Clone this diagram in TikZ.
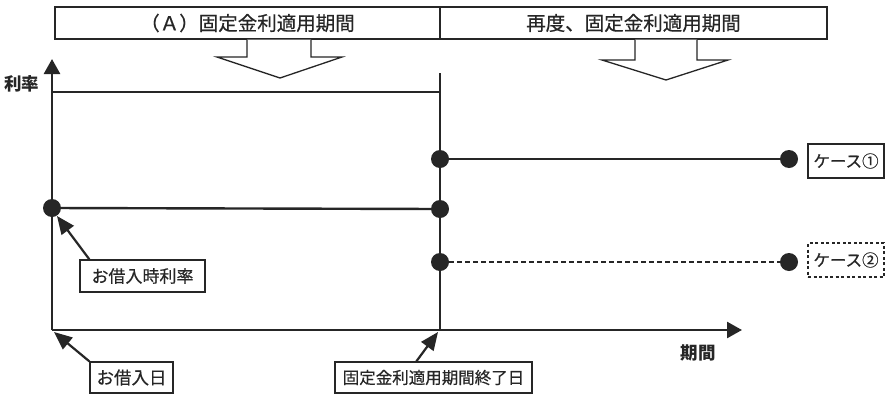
\documentclass[tikz,border=0pt]{standalone}
\usepackage{fontspec}
\newfontfamily\jp[FakeBold=0.5]{Noto Sans CJK JP}
\newfontfamily\jpg{Noto Sans CJK JP}
\usetikzlibrary{arrows.meta}
\definecolor{ink}{HTML}{262626}
\tikzset{
  lbl/.style={draw=ink, line width=1.3pt, inner sep=0pt, text=ink, font=\jp},
  hdr/.style={lbl, minimum height=32pt, font=\jp\fontsize{19.5}{20}\selectfont},
  axlbl/.style={text=ink, font=\jpg\bfseries\fontsize{17.5}{18}\selectfont},
  dot/.style={circle, fill=ink, minimum size=18pt, inner sep=0pt},
  rate/.style={draw=ink, line width=2.4pt},
  axis/.style={draw=ink, line width=2.6pt, -{Triangle[length=15pt,width=16pt]}},
  ptr/.style={draw=ink, line width=2.2pt, -{Triangle[length=18pt,width=15pt]}},
  hollow/.style={draw=ink, line width=1.3pt, fill=white}
}
\begin{document}
\begin{tikzpicture}[x=1pt,y=-1pt]
\useasboundingbox[fill=white] (0,0) rectangle (886,394);
% header boxes
\node[hdr, minimum width=385pt] (hA) at (247.5,23) {（Ａ）固定金利適用期間};
\node[hdr, minimum width=387pt] (hB) at (633.5,23) {再度、固定金利適用期間};
% hollow arrows
\draw[hollow] (247,39.6) -- (247,57) -- (217,57) -- (280,78) -- (342,57) -- (311,57) -- (311,39.6);
\draw[hollow] (635,39.6) -- (635,60) -- (602,60) -- (666,80) -- (728,60) -- (697,60) -- (697,39.6);
% axes
\coordinate (O) at (52,330);
\coordinate (ytip) at (52,59);
\coordinate (xtip) at (742,330);
\draw[axis] (O) -- (ytip);
\draw[axis] (O) -- (xtip);
\node[axlbl] (yl) at (22,84) {利率};
\node[axlbl] (xl) at (698,353) {期間};
% end of fixed period vertical line
\coordinate (vtop) at (440,73);
\coordinate (vbot) at (440,330);
\draw[rate, line width=2.6pt] (vtop) -- (vbot);
% top rate line
\coordinate (tl) at (52,92);
\coordinate (tr) at (440,92);
\draw[rate] (tl) -- (tr);
% dots
\node[dot] (d0) at (52,208) {};
\node[dot] (d1) at (440,209) {};
\node[dot] (c1s) at (440,159) {};
\node[dot] (c1e) at (789,159) {};
\node[dot] (c2s) at (440,262) {};
\node[dot] (c2e) at (789,262) {};
\draw[rate] (d0) -- (d1);
\draw[rate] (c1s) -- (c1e);
\draw[rate, dashed, dash pattern=on 5pt off 3pt] (c2s) -- (c2e);
% case labels
\node[lbl, minimum width=76pt, minimum height=34pt, font=\jp\fontsize{16.5}{17}\selectfont] (k1) at (846,161) {ケース①};
\node[lbl, dashed, dash pattern=on 3pt off 2.5pt, minimum width=76pt, minimum height=34pt, font=\jp\fontsize{16.5}{17}\selectfont] (k2) at (846,260) {ケース②};
% pointer labels
\node[lbl, minimum width=125pt, minimum height=32pt, font=\jp\fontsize{17}{18}\selectfont] (b1) at (142.5,276) {お借入時利率};
\node[lbl, minimum width=83pt, minimum height=31pt, font=\jp\fontsize{17.5}{18}\selectfont] (b2) at (131.5,377.5) {お借入日};
\node[lbl, minimum width=197pt, minimum height=31pt, font=\jp\fontsize{16.5}{17}\selectfont] (b3) at (433.5,377.5) {固定金利適用期間終了日};
\coordinate (p1) at (57,216);
\coordinate (p2) at (54,332);
\coordinate (p3) at (438,332);
\draw[ptr] (b1.north west) ++(10pt,0) -- (p1);
\draw[ptr] (b2.north west) -- (p2);
\draw[ptr] ([xshift=82pt]b3.north west) -- (p3);
\end{tikzpicture}
\end{document}
